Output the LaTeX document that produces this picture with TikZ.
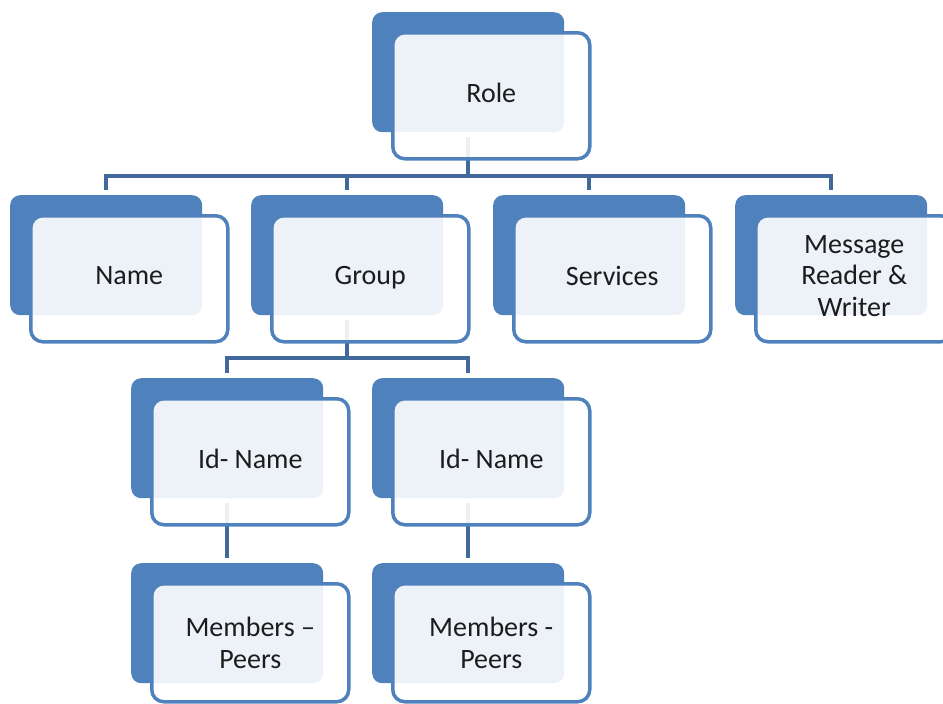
\documentclass[tikz,border=0pt]{standalone}
\usepackage{fontspec}
\setmainfont{Carlito}
\definecolor{boxblue}{HTML}{4F81BD}
\definecolor{linkblue}{HTML}{41699C}
\definecolor{inkgray}{HTML}{1C1C1C}
\pgfdeclarelayer{links}
\pgfsetlayers{links,main}

\tikzset{
  backbox/.style={anchor=north west, rectangle, rounded corners=10pt,
    fill=boxblue, minimum width=192pt, minimum height=120pt, inner sep=0pt},
  frontbox/.style={anchor=north west, rectangle, rounded corners=12pt,
    draw=boxblue, line width=3.5pt, fill=white, fill opacity=0.9,
    text opacity=1, text=inkgray, minimum width=197pt, minimum height=126pt,
    inner sep=0pt, text depth=6pt, align=center,
    font=\fontsize{28}{31.5}\selectfont},
  shortbox/.style={minimum height=118pt, text depth=0pt},
  link/.style={draw=linkblue, line width=3.5pt, line join=miter}
}

% one entry of the chart: a solid tab behind a lighter card
\newcommand\orgbox[5][]{%
  \node[backbox] (#2B) at (#3,#4) {};
  \node[frontbox,#1] (#2) at (#3+19,#4+19) {#5};
}

\begin{document}
\begin{tikzpicture}[x=1pt,y=-1pt]
  \useasboundingbox (0,0) rectangle (943,704);

  \orgbox{role}{372}{12}{Role}

  \orgbox{name}{10}{195}{Name}
  \orgbox{group}{251}{195}{Group}
  \orgbox{serv}{493}{195}{Services}
  \orgbox{msg}{735}{195}{Message\\Reader \&\\Writer}

  \orgbox{ida}{131}{378}{Id- Name}
  \orgbox{idb}{372}{378}{Id- Name}

  \orgbox[shortbox]{mema}{131}{563}{Members --\\Peers}
  \orgbox[shortbox]{memb}{372}{563}{Members -\\Peers}

  \coordinate (busA) at (0,176);
  \coordinate (busB) at (0,358);

  \begin{pgfonlayer}{links}
    % top level
    \draw[link, shorten <=5pt] (roleB.south) -- (roleB.south |- busA);
    \draw[link, shorten <=5pt, shorten >=5pt]
      (nameB.north) -- (nameB.north |- busA) -- (msgB.north |- busA) -- (msgB.north);
    \draw[link, shorten >=5pt] (groupB.north |- busA) -- (groupB.north);
    \draw[link, shorten >=5pt] (servB.north |- busA) -- (servB.north);
    % group level
    \draw[link, shorten <=5pt] (groupB.south) -- (groupB.south |- busB);
    \draw[link, shorten <=5pt, shorten >=5pt]
      (idaB.north) -- (idaB.north |- busB) -- (idbB.north |- busB) -- (idbB.north);
    % members
    \draw[link, shorten <=5pt, shorten >=5pt] (idaB.south) -- (memaB.north);
    \draw[link, shorten <=5pt, shorten >=5pt] (idbB.south) -- (membB.north);
  \end{pgfonlayer}
\end{tikzpicture}
\end{document}
